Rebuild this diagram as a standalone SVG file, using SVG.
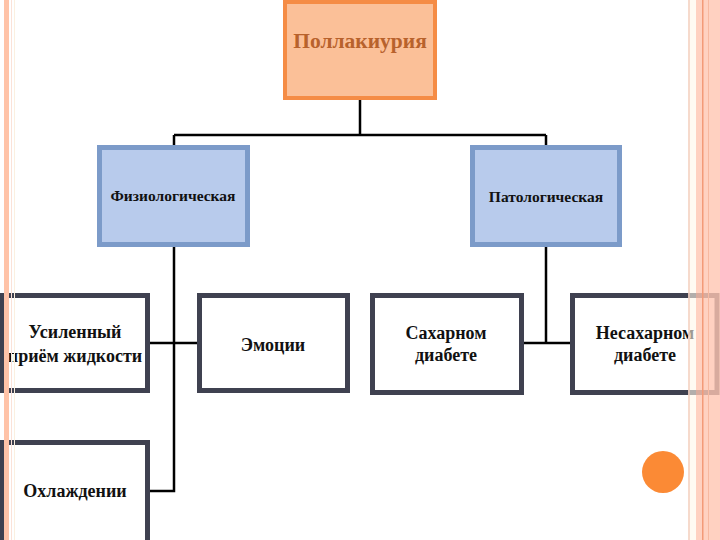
<svg xmlns="http://www.w3.org/2000/svg" width="720" height="540" viewBox="0 0 720 540">
<style>
.t{font-family:"Liberation Serif","DejaVu Serif",serif;font-weight:bold;text-anchor:middle;fill:#111}
.dark{fill:#fff;stroke:#3f4150;stroke-width:5}
.blue{fill:#b8cbec;stroke:#7c9bc9;stroke-width:5}
.conn{fill:none;stroke:#000;stroke-width:2.5}
</style>
<rect width="720" height="540" fill="#fff"/>
<g id="connectors">
<path class="conn" d="M360 100V135M174 135H546M174 135V146M546 135V146"/>
<path class="conn" d="M174 246V491H150M150 343H198"/>
<path class="conn" d="M546 246V343M524 343H570"/>
</g>
<g id="root">
<rect x="285" y="2" width="150" height="96" fill="#fbc098" stroke="#f58c45" stroke-width="4"/>
<text class="t" x="360" y="48" font-size="21.5" style="fill:#b8622c">Поллакиурия</text>
</g>
<g id="phys">
<rect class="blue" x="99.5" y="147.5" width="148" height="97"/>
<text class="t" x="173" y="201" font-size="15.5">Физиологическая</text>
</g>
<g id="path">
<rect class="blue" x="472.5" y="147.5" width="147" height="97"/>
<text class="t" x="546" y="202" font-size="15.5">Патологическая</text>
</g>
<g id="fluid">
<rect class="dark" x="2.5" y="295.5" width="145" height="95"/>
<text class="t" x="75" y="338" font-size="18">Усиленный</text>
<text class="t" x="75" y="362" font-size="18">приём жидкости</text>
</g>
<g id="emo">
<rect class="dark" x="199.5" y="295.5" width="148" height="95"/>
<text class="t" x="273" y="351" font-size="18">Эмоции</text>
</g>
<g id="sd">
<rect class="dark" x="372.5" y="295.5" width="149" height="97"/>
<text class="t" x="446" y="339" font-size="18">Сахарном</text>
<text class="t" x="446" y="361" font-size="18">диабете</text>
</g>
<g id="nsd">
<rect class="dark" x="572.5" y="295.5" width="144.5" height="97"/>
<text class="t" x="645" y="339" font-size="18">Несахарном</text>
<text class="t" x="645" y="361" font-size="18">диабете</text>
</g>
<g id="cool">
<rect class="dark" x="2.5" y="442.5" width="145" height="110"/>
<text class="t" x="75" y="497" font-size="18">Охлаждении</text>
</g>
<g id="frame">
<rect x="4" y="0" width="5" height="540" fill="#ffc3a8"/>
<rect x="11" y="0" width="1" height="540" fill="#fbe2d8"/>
<rect x="14" y="0" width="1" height="540" fill="#fbf0e0"/>
<rect x="688" y="0" width="2" height="540" fill="#f5d3c3" opacity="0.85"/>
<rect x="690" y="0" width="6" height="540" fill="#fff6ea" opacity="0.6"/>
<rect x="696" y="0" width="24" height="540" fill="#ffc6b2" opacity="0.8"/>
<rect x="702" y="0" width="1.5" height="540" fill="#f39a78"/>
<rect x="708" y="0" width="1" height="540" fill="#f7b8a0"/>
</g>
<circle cx="663" cy="472" r="21" fill="#fb8a35"/>
</svg>
